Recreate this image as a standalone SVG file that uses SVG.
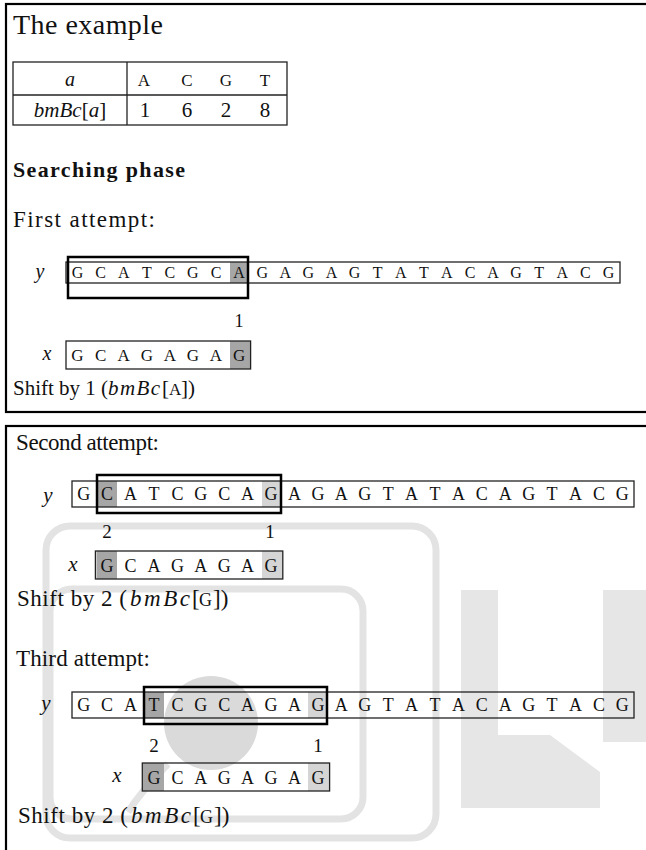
<svg xmlns="http://www.w3.org/2000/svg" width="646" height="850" viewBox="0 0 646 850">
<style>
.t{font-family:"Liberation Serif",serif;fill:#111}
.i{font-style:italic}
.b{font-weight:bold}
.m{font-family:"Liberation Serif",serif;fill:#111}
.box{fill:none;stroke:#222;stroke-width:1.3}
.frame{fill:none;stroke:#000;stroke-width:2.5}
.dk{fill:#a6a6a6}
.lt{fill:#d5d5d5}
.panel{fill:none;stroke:#000;stroke-width:2.2}
.wm{fill:none;stroke:#e3e3e3;stroke-width:7}
.wmf{fill:#e6e6e6}
</style>
<rect width="646" height="850" fill="#fff"/>
<g id="watermark">
<rect class="wm" x="46" y="526" width="390" height="312" rx="24"/>
<rect class="wm" x="50" y="589" width="313" height="230" rx="22"/>
<circle cx="211" cy="723" r="47" fill="#dadada"/>
<path class="wm" d="M168,764 Q142,790 128,812"/>
<polygon class="wmf" points="461,590 498,590 498,735 550,735 600,772 600,808 461,808"/>
<rect class="wmf" x="603" y="590" width="50" height="152"/>
</g>
<g id="panels">
<rect class="panel" x="6" y="4" width="660" height="408"/>
<rect class="panel" x="6" y="426" width="660" height="440"/>
</g>
<g id="header">
<text class="t" x="13" y="34" font-size="28" textLength="150">The example</text>
<g id="table">
<rect class="box" x="13" y="62" width="274" height="63"/>
<line class="box" x1="13" y1="95" x2="287" y2="95"/>
<line class="box" x1="127" y1="62" x2="127" y2="125"/>
<text class="t i" x="70" y="86" font-size="20" text-anchor="middle">a</text>
<text class="m" font-size="17" text-anchor="middle" x="144 187 226 265" y="86">ACGT</text>
<text class="t" x="70" y="117" font-size="21" text-anchor="middle"><tspan class="i">bmBc</tspan>[<tspan class="i">a</tspan>]</text>
<text class="t" font-size="21" text-anchor="middle" x="145 187 226 265" y="117">1628</text>
</g>
<text class="t b" x="13" y="177" font-size="22" textLength="172">Searching phase</text>
</g>
<g id="attempt1">
<text class="t" x="13" y="227" font-size="23" textLength="142">First attempt:</text>
<text class="t i" x="40" y="278" font-size="20" text-anchor="middle">y</text>
<rect class="dk" x="230" y="262" width="18.5" height="21"/>
<rect class="box" x="66" y="262" width="554" height="21"/>
<text class="m" font-size="16" text-anchor="middle" y="278" x="77.5 100.6 123.7 146.8 169.9 192.9 216.0 239.1 262.2 285.3 308.4 331.5 354.5 377.6 400.7 423.8 446.9 470.0 493.1 516.1 539.2 562.3 585.4 608.5">GCATCGCAGAGAGTATACAGTACG</text>
<rect class="frame" x="68" y="257" width="180" height="41"/>
<text class="t" x="239" y="327" font-size="18" text-anchor="middle">1</text>
<text class="t i" x="47" y="360" font-size="20" text-anchor="middle">x</text>
<rect class="dk" x="230" y="341" width="20" height="28"/>
<rect class="box" x="66" y="341" width="184.6" height="28"/>
<text class="m" font-size="17" text-anchor="middle" y="361" x="77.5 100.6 123.7 146.8 169.9 192.9 216.0 239.1">GCAGAGAG</text>
<text class="t" x="13" y="395" font-size="21">Shift by 1 (</text>
<text class="t i" x="108" y="395" font-size="21" textLength="52">bmBc</text>
<text class="t" x="162" y="395" font-size="21">[</text>
<text class="m" x="169" y="395" font-size="17">A</text>
<text class="t" x="181" y="395" font-size="21">])</text>
</g>
<g id="attempt2">
<text class="t" x="16" y="450" font-size="23" textLength="143">Second attempt:</text>
<text class="t i" x="48" y="502" font-size="21" text-anchor="middle">y</text>
<rect class="dk" x="97.5" y="481" width="19.5" height="26"/>
<rect class="lt" x="262" y="481" width="19" height="26"/>
<rect class="box" x="72" y="481" width="562" height="26"/>
<text class="m" font-size="18" text-anchor="middle" y="500" x="83.7 107.1 130.6 154.0 177.4 200.8 224.2 247.6 271.1 294.5 317.9 341.3 364.7 388.2 411.6 435.0 458.4 481.8 505.2 528.7 552.1 575.5 598.9 622.3">GCATCGCAGAGAGTATACAGTACG</text>
<rect class="frame" x="97" y="475" width="184" height="38"/>
<text class="t" x="107" y="538" font-size="19" text-anchor="middle">2</text>
<text class="t" x="270" y="538" font-size="19" text-anchor="middle">1</text>
<text class="t i" x="73" y="571" font-size="21" text-anchor="middle">x</text>
<rect class="dk" x="96.5" y="551" width="20.5" height="28"/>
<rect class="lt" x="262" y="551" width="20.5" height="28"/>
<rect class="box" x="95.4" y="551" width="187.4" height="28"/>
<text class="m" font-size="18" text-anchor="middle" y="572" x="107.1 130.6 154.0 177.4 200.8 224.2 247.6 271.1">GCAGAGAG</text>
<text class="t" x="17" y="606" font-size="23" textLength="110">Shift by 2 (</text>
<text class="t i" x="130" y="606" font-size="23" textLength="60">bmBc</text>
<text class="t" x="192" y="606" font-size="23">[</text>
<text class="m" x="199" y="606" font-size="18">G</text>
<text class="t" x="213" y="606" font-size="23">])</text>
</g>
<g id="attempt3">
<text class="t" x="16" y="666" font-size="23" textLength="134">Third attempt:</text>
<text class="t i" x="46" y="710" font-size="21" text-anchor="middle">y</text>
<rect class="dk" x="145" y="692" width="19" height="26"/>
<rect class="lt" x="308" y="692" width="19" height="26"/>
<rect class="box" x="72" y="692" width="562" height="26"/>
<text class="m" font-size="18" text-anchor="middle" y="711" x="83.7 107.1 130.6 154.0 177.4 200.8 224.2 247.6 271.1 294.5 317.9 341.3 364.7 388.2 411.6 435.0 458.4 481.8 505.2 528.7 552.1 575.5 598.9 622.3">GCATCGCAGAGAGTATACAGTACG</text>
<rect class="frame" x="144" y="687" width="183" height="37"/>
<text class="t" x="154" y="752" font-size="19" text-anchor="middle">2</text>
<text class="t" x="318" y="752" font-size="19" text-anchor="middle">1</text>
<text class="t i" x="117" y="782" font-size="21" text-anchor="middle">x</text>
<rect class="dk" x="143" y="763" width="21" height="28"/>
<rect class="lt" x="308" y="763" width="21" height="28"/>
<rect class="box" x="142.3" y="763" width="187.3" height="28"/>
<text class="m" font-size="18" text-anchor="middle" y="784" x="154.0 177.4 200.8 224.2 247.6 271.1 294.5 317.9">GCAGAGAG</text>
<text class="t" x="18" y="823" font-size="23" textLength="110">Shift by 2 (</text>
<text class="t i" x="131" y="823" font-size="23" textLength="60">bmBc</text>
<text class="t" x="193" y="823" font-size="23">[</text>
<text class="m" x="200" y="823" font-size="18">G</text>
<text class="t" x="214" y="823" font-size="23">])</text>
</g>
</svg>
